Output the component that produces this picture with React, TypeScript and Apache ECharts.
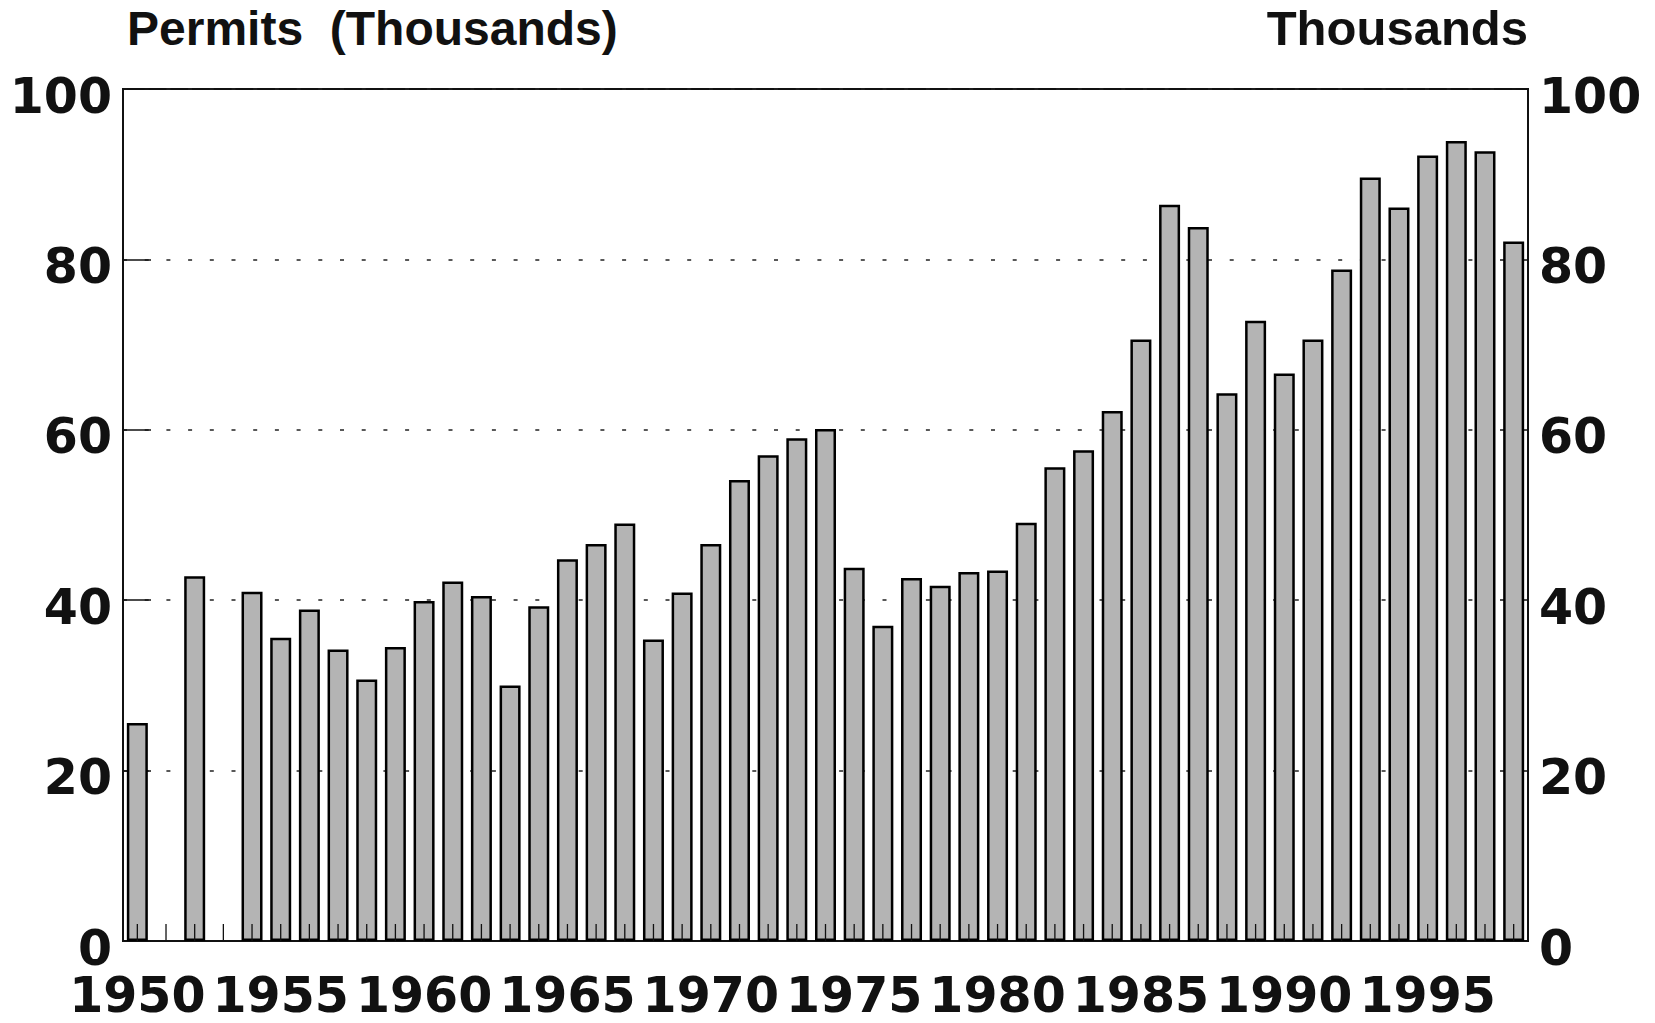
import React, { useEffect, useRef } from "react";
import * as echarts from "echarts";

const years: string[] = [
  "1950","1951","1952","1953","1954","1955","1956","1957","1958","1959",
  "1960","1961","1962","1963","1964","1965","1966","1967","1968","1969",
  "1970","1971","1972","1973","1974","1975","1976","1977","1978","1979",
  "1980","1981","1982","1983","1984","1985","1986","1987","1988","1989",
  "1990","1991","1992","1993","1994","1995","1996","1997","1998",
];

const permits: (number | null)[] = [
  25.6, null, 42.8, null, 41.0, 35.6, 38.9, 34.2, 30.7, 34.5,
  39.9, 42.2, 40.5, 30.0, 39.3, 44.8, 46.6, 49.0, 35.4, 40.9,
  46.6, 54.1, 57.0, 59.0, 60.1, 43.8, 37.0, 42.6, 41.7, 43.3,
  43.5, 49.1, 55.6, 57.6, 62.2, 70.6, 86.4, 83.8, 64.3, 72.8,
  66.6, 70.6, 78.8, 89.6, 86.1, 92.2, 93.9, 92.7, 82.1,
];

const leftTitle = "Permits  (Thousands)";
const rightTitle = "Thousands";
const yMin = 0;
const yMax = 100;
const yStep = 20;
const labelEvery = 5;

const NUMFONT = "'DejaVu Sans', 'Liberation Sans', Arial, sans-serif";
const TITLEFONT = "'Liberation Sans', Arial, Helvetica, sans-serif";

export default function App() {
  const ref = useRef<HTMLDivElement>(null);

  useEffect(() => {
    if (!ref.current) return;
    const chart = echarts.init(ref.current, undefined, { renderer: "svg" });

    const yLabel = {
      show: true,
      color: "#111",
      margin: 11,
      formatter: (v: number) => `{n|${v}}`,
      rich: {
        n: {
          fontFamily: NUMFONT,
          fontWeight: "bold" as const,
          fontSize: 49,
          lineHeight: 40,
          color: "#111",
          padding: [14, 0, 0, 0],
        },
      },
    };

    const yAxisCommon = {
      type: "value" as const,
      min: yMin,
      max: yMax,
      interval: yStep,
      axisLine: { show: true, lineStyle: { color: "#111", width: 2 } },
      axisTick: { show: true, inside: true, length: 28, lineStyle: { color: "#111", width: 1.5 } },
    };

    chart.setOption({
      animation: false,
      backgroundColor: "#ffffff",
      grid: {
        left: 123,
        right: 127,
        top: 89,
        bottom: 82,
        show: true,
        borderColor: "#111",
        borderWidth: 2,
        backgroundColor: "transparent",
      },
      graphic: [
        {
          type: "text",
          x: 127,
          y: 28,
          style: {
            text: leftTitle,
            font: `bold 48px ${TITLEFONT}`,
            fill: "#111",
            textAlign: "left",
            textVerticalAlign: "middle",
          },
        },
        {
          type: "text",
          x: 1528,
          y: 28,
          style: {
            text: rightTitle,
            font: `bold 49px ${TITLEFONT}`,
            fill: "#111",
            textAlign: "right",
            textVerticalAlign: "middle",
          },
        },
      ],
      xAxis: {
        type: "category",
        data: years,
        boundaryGap: true,
        axisLine: { show: true, lineStyle: { color: "#111", width: 2 } },
        axisTick: { show: false },
        axisLabel: {
          interval: (idx: number) => idx % labelEvery === 0,
          hideOverlap: false,
          color: "#111",
          fontFamily: NUMFONT,
          fontWeight: "bold",
          fontSize: 49,
          lineHeight: 40,
          margin: 34,
        },
        splitLine: { show: false },
      },
      yAxis: [
        {
          ...yAxisCommon,
          position: "left",
          axisLabel: yLabel,
          splitLine: {
            show: true,
            lineStyle: { color: "#222", width: 1.5, type: [4, 17.7] },
          },
        },
        {
          ...yAxisCommon,
          position: "right",
          axisLabel: yLabel,
          splitLine: { show: false },
        },
      ],
      series: [
        {
          type: "bar",
          data: permits,
          yAxisIndex: 0,
          barWidth: 21,
          z: 2,
          itemStyle: {
            color: "#b4b4b4",
            borderColor: "#000",
            borderWidth: 2.5,
          },
        },
        {
          type: "custom",
          z: 10,
          silent: true,
          data: years.map((_, i) => i),
          renderItem: (params: any, api: any) => {
            const idx = api.value(0);
            const p = api.coord([idx, 0]);
            return {
              type: "line",
              shape: { x1: p[0], y1: p[1], x2: p[0], y2: p[1] - 17 },
              style: { stroke: "#111", lineWidth: 1.3 },
            };
          },
          encode: { x: 0 },
        },
      ],
    });

    return () => chart.dispose();
  }, []);

  return (
    <div
      ref={ref}
      style={{ position: "fixed", left: 0, top: 0, width: 1655, height: 1023, background: "#fff" }}
    />
  );
}
